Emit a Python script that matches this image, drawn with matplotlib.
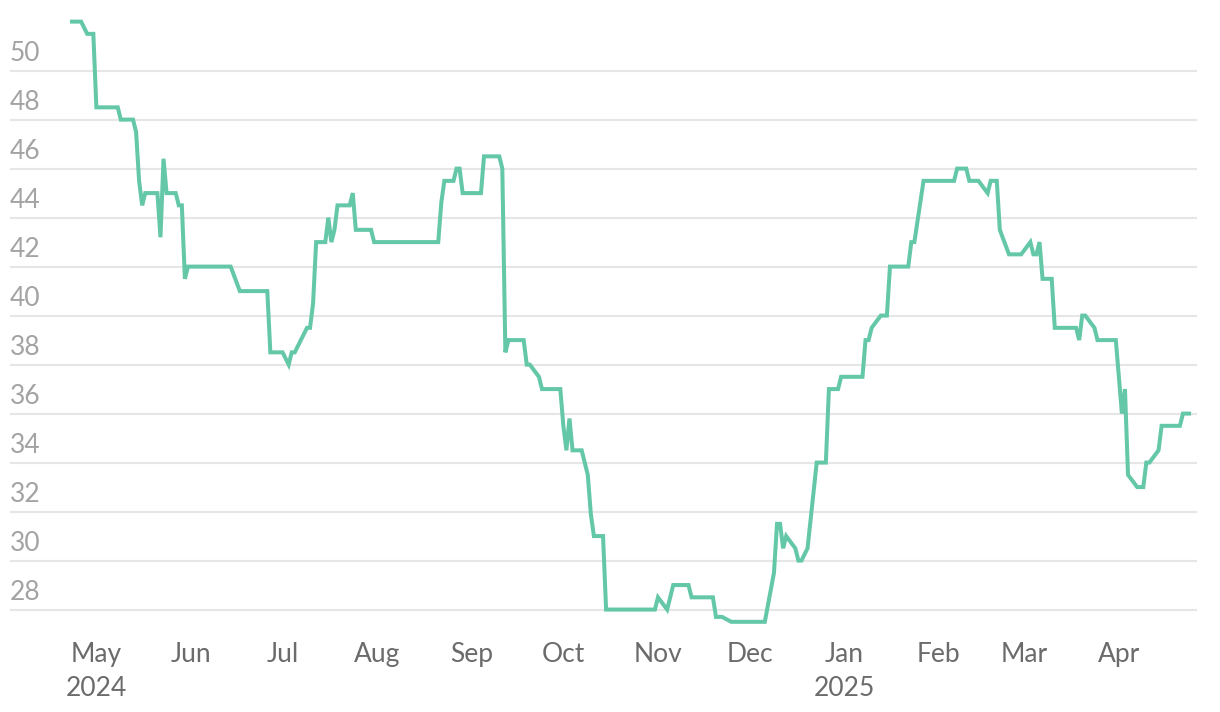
import matplotlib
matplotlib.use("Agg")
import matplotlib.pyplot as plt
import matplotlib.transforms as mtransforms
import pandas as pd

# Price series
dates = [
    "2024-04-23", "2024-04-26", "2024-04-28", "2024-04-30", "2024-05-01",
    "2024-05-08", "2024-05-09", "2024-05-13", "2024-05-14", "2024-05-15",
    "2024-05-16", "2024-05-17", "2024-05-21", "2024-05-22", "2024-05-23",
    "2024-05-24", "2024-05-27", "2024-05-28", "2024-05-29", "2024-05-30",
    "2024-05-31", "2024-06-14", "2024-06-17", "2024-06-26", "2024-06-27",
    "2024-07-01", "2024-07-03", "2024-07-04", "2024-07-05", "2024-07-09",
    "2024-07-10", "2024-07-11", "2024-07-12", "2024-07-15", "2024-07-16",
    "2024-07-17", "2024-07-18", "2024-07-19", "2024-07-23", "2024-07-24",
    "2024-07-25", "2024-07-30", "2024-07-31", "2024-08-21", "2024-08-22",
    "2024-08-23", "2024-08-26", "2024-08-27", "2024-08-28", "2024-08-29",
    "2024-09-04", "2024-09-05", "2024-09-10", "2024-09-11", "2024-09-12",
    "2024-09-13", "2024-09-18", "2024-09-19", "2024-09-20", "2024-09-23",
    "2024-09-24", "2024-09-30", "2024-10-01", "2024-10-02", "2024-10-03",
    "2024-10-04", "2024-10-07", "2024-10-09", "2024-10-10", "2024-10-11",
    "2024-10-14", "2024-10-15", "2024-10-31", "2024-11-01", "2024-11-04",
    "2024-11-06", "2024-11-11", "2024-11-12", "2024-11-19", "2024-11-20",
    "2024-11-22", "2024-11-25", "2024-12-06", "2024-12-09", "2024-12-10",
    "2024-12-11", "2024-12-12", "2024-12-13", "2024-12-16", "2024-12-17",
    "2024-12-18", "2024-12-20", "2024-12-23", "2024-12-26", "2024-12-27",
    "2024-12-30", "2024-12-31", "2025-01-07", "2025-01-08", "2025-01-09",
    "2025-01-10", "2025-01-13", "2025-01-15", "2025-01-16", "2025-01-22",
    "2025-01-23", "2025-01-24", "2025-01-27", "2025-02-06", "2025-02-07",
    "2025-02-10", "2025-02-11", "2025-02-14", "2025-02-17", "2025-02-18",
    "2025-02-20", "2025-02-21", "2025-02-24", "2025-02-28", "2025-03-03",
    "2025-03-04", "2025-03-05", "2025-03-06", "2025-03-07", "2025-03-10",
    "2025-03-11", "2025-03-18", "2025-03-19", "2025-03-20", "2025-03-21",
    "2025-03-24", "2025-03-25", "2025-03-31", "2025-04-02", "2025-04-03",
    "2025-04-04", "2025-04-07", "2025-04-09", "2025-04-10", "2025-04-11",
    "2025-04-14", "2025-04-15", "2025-04-21", "2025-04-22", "2025-04-24",
]
values = [
    52.0, 52.0, 51.5, 51.5, 48.5,
    48.5, 48.0, 48.0, 47.5, 45.5,
    44.5, 45.0, 45.0, 43.2, 46.4,
    45.0, 45.0, 44.5, 44.5, 41.5,
    42.0, 42.0, 41.0, 41.0, 38.5,
    38.5, 38.0, 38.5, 38.5, 39.5,
    39.5, 40.5, 43.0, 43.0, 44.0,
    43.0, 43.5, 44.5, 44.5, 45.0,
    43.5, 43.5, 43.0, 43.0, 44.6,
    45.5, 45.5, 46.0, 46.0, 45.0,
    45.0, 46.5, 46.5, 46.0, 38.5,
    39.0, 39.0, 38.0, 38.0, 37.5,
    37.0, 37.0, 35.5, 34.5, 35.8,
    34.5, 34.5, 33.5, 31.9, 31.0,
    31.0, 28.0, 28.0, 28.5, 28.0,
    29.0, 29.0, 28.5, 28.5, 27.7,
    27.7, 27.5, 27.5, 29.5, 31.5,
    31.5, 30.5, 31.0, 30.5, 30.0,
    30.0, 30.5, 34.0, 34.0, 37.0,
    37.0, 37.5, 37.5, 39.0, 39.0,
    39.5, 40.0, 40.0, 42.0, 42.0,
    43.0, 43.0, 45.5, 45.5, 46.0,
    46.0, 45.5, 45.5, 45.0, 45.5,
    45.5, 43.5, 42.5, 42.5, 43.0,
    42.5, 42.5, 43.0, 41.5, 41.5,
    39.5, 39.5, 39.0, 40.0, 40.0,
    39.5, 39.0, 39.0, 36.0, 37.0,
    33.5, 33.0, 33.0, 34.0, 34.0,
    34.5, 35.5, 35.5, 36.0, 36.0,
]

y_ticks = [28, 30, 32, 34, 36, 38, 40, 42, 44, 46, 48, 50]
month_ticks = ["2024-05-01", "2024-06-01", "2024-07-01", "2024-08-01", "2024-09-01",
               "2024-10-01", "2024-11-01", "2024-12-01", "2025-01-01", "2025-02-01",
               "2025-03-01", "2025-04-01"]
month_labels = ["May\n2024", "Jun", "Jul", "Aug", "Sep", "Oct", "Nov", "Dec",
                "Jan\n2025", "Feb", "Mar", "Apr"]

line_color = "#64c8a8"
plt.rcParams["font.family"] = ["Lato", "DejaVu Sans"]

fig = plt.figure(figsize=(12.2, 7.12), dpi=100)
ax = fig.add_axes([10 / 1220, 1 - 625 / 712, 1187 / 1220, 610 / 712])

x = pd.to_datetime(dates)
ax.plot(x, values, color=line_color, lw=2.9, solid_joinstyle="miter", zorder=3)

start = pd.Timestamp("2024-05-01")
ax.set_xlim(start - pd.Timedelta(days=28.3), start + pd.Timedelta(days=360.6))
ax.set_ylim(27.37, 52.27)

for s in ax.spines.values():
    s.set_visible(False)

ax.set_yticks(y_ticks)
ax.yaxis.grid(True, color="#e6e6e6", lw=1.5)
ax.tick_params(axis="y", length=0, labelleft=False)
ax.set_axisbelow(True)

# y labels sit above their gridline at the left edge
trans = mtransforms.blended_transform_factory(ax.transAxes, ax.transData)
offset = mtransforms.ScaledTranslation(0, 5 / 100, fig.dpi_scale_trans)
for v in y_ticks:
    ax.text(0, v, str(v), transform=trans + offset, ha="left", va="bottom",
            fontsize=19, color="#a3a3a3")

ax.set_xticks(pd.to_datetime(month_ticks))
ax.set_xticklabels(month_labels, fontsize=19, color="#6b6b6b", linespacing=1.45)
ax.tick_params(axis="x", length=0, pad=12)

fig.savefig("out.png", dpi=100)
